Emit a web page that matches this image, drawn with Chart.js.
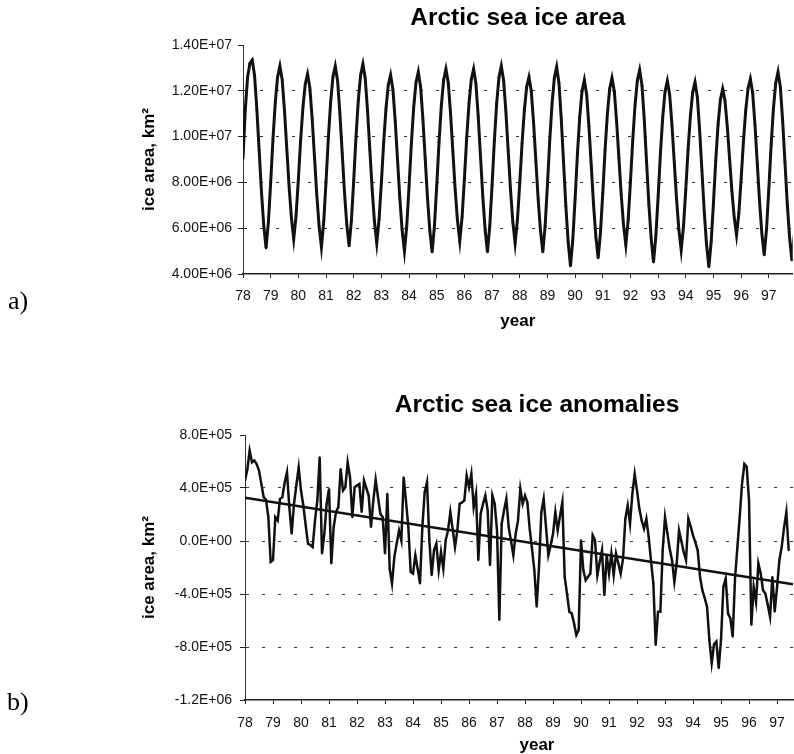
<!DOCTYPE html>
<html>
<head>
<meta charset="utf-8">
<script src="https://cdn.jsdelivr.net/npm/chart.js@4/dist/chart.umd.min.js"></script>
<style>
html,body{margin:0;padding:0;background:#fff;overflow:hidden;width:794px;height:754px;}
#wrap{position:relative;width:794px;height:754px;overflow:hidden;background:#fff;}
canvas{position:absolute;left:0;}
#c1{top:0;}
#c2{top:360px;}
.lab{position:absolute;font-family:'Liberation Serif','Times New Roman',serif;font-size:26px;line-height:26px;color:#000;}
</style>
</head>
<body>
<div id="wrap">
  <canvas id="c1" width="794" height="340"></canvas>
  <canvas id="c2" width="830" height="400"></canvas>
  <div class="lab" style="left:8px;top:288px;">a)</div>
  <div class="lab" style="left:7px;top:689px;">b)</div>
</div>
<script>
// ---------- data ----------
const firstYear = 78;                 // first month of the record (x = 78.0)
const monthsPerYear = 12;
const yearTicks  = [78,79,80,81,82,83,84,85,86,87,88,89,90,91,92,93,94,95,96,97];
const yearLabels = ['78','79','80','81','82','83','84','85','86','87','88','89','90','91','92','93','94','95','96','97'];

const areaTitle = 'Arctic sea ice area';
const anomTitle = 'Arctic sea ice anomalies';
const yTitle = 'ice area, km\u00B2';
const xTitle = 'year';

const areaYTicks  = [4e6, 6e6, 8e6, 1e7, 1.2e7, 1.4e7];
const areaYLabels = ['4.00E+06','6.00E+06','8.00E+06','1.00E+07','1.20E+07','1.40E+07'];
const anomYTicks  = [-1.2e6, -8e5, -4e5, 0, 4e5, 8e5];
const anomYLabels = ['-1.2E+06','-8.0E+05','-4.0E+05','0.0E+00','4.0E+05','8.0E+05'];

// monthly Arctic sea ice area, km^2 (1978 ... 1997)
const iceArea = [
 9.06e6,11.2e6,12.6e6,13.2e6,13.34e6,12.68e6,11.21e6,9.40e6,7.60e6,6.12e6,5.14e6,6.25e6,
 8.00e6,9.90e6,11.49e6,12.60e6,13.08e6,12.48e6,11.12e6,9.46e6,7.80e6,6.44e6,5.53e6,6.54e6,
 8.12e6,9.85e6,11.29e6,12.30e6,12.73e6,12.13e6,10.77e6,9.11e6,7.45e6,6.09e6,5.18e6,6.29e6,
 8.02e6,9.92e6,11.50e6,12.61e6,13.08e6,12.45e6,11.04e6,9.31e6,7.58e6,6.16e6,5.22e6,6.33e6,
 8.08e6,9.99e6,11.58e6,12.69e6,13.17e6,12.54e6,11.14e6,9.42e6,7.70e6,6.29e6,5.35e6,6.38e6,
 7.99e6,9.75e6,11.22e6,12.25e6,12.69e6,12.07e6,10.69e6,9.00e6,7.31e6,5.92e6,5.00e6,6.09e6,
 7.82e6,9.69e6,11.26e6,12.35e6,12.82e6,12.19e6,10.78e6,9.05e6,7.32e6,5.90e6,4.96e6,6.08e6,
 7.84e6,9.75e6,11.35e6,12.47e6,12.95e6,12.35e6,11.00e6,9.35e6,7.69e6,6.34e6,5.44e6,6.49e6,
 8.14e6,9.95e6,11.45e6,12.50e6,12.95e6,12.31e6,10.87e6,9.11e6,7.36e6,5.92e6,4.96e6,6.10e6,
 7.88e6,9.83e6,11.46e6,12.59e6,13.08e6,12.46e6,11.07e6,9.37e6,7.67e6,6.28e6,5.35e6,6.37e6,
 7.96e6,9.70e6,11.15e6,12.17e6,12.60e6,11.99e6,10.61e6,8.93e6,7.25e6,5.88e6,4.96e6,6.09e6,
 7.87e6,9.81e6,11.42e6,12.56e6,13.04e6,12.34e6,10.78e6,8.87e6,6.96e6,5.39e6,4.35e6,5.49e6,
 7.27e6,9.22e6,10.85e6,11.98e6,12.47e6,11.85e6,10.45e6,8.74e6,7.03e6,5.63e6,4.70e6,5.80e6,
 7.53e6,9.42e6,10.99e6,12.09e6,12.56e6,11.98e6,10.66e6,9.06e6,7.46e6,6.14e6,5.27e6,6.34e6,
 8.02e6,9.85e6,11.38e6,12.45e6,12.91e6,12.24e6,10.73e6,8.88e6,7.04e6,5.53e6,4.52e6,5.63e6,
 7.37e6,9.27e6,10.85e6,11.96e6,12.43e6,11.84e6,10.51e6,8.89e6,7.26e6,5.94e6,5.05e6,6.08e6,
 7.69e6,9.45e6,10.91e6,11.94e6,12.38e6,11.73e6,10.28e6,8.51e6,6.73e6,5.28e6,4.31e6,5.40e6,
 7.11e6,8.97e6,10.53e6,11.61e6,12.08e6,11.57e6,10.42e6,9.02e6,7.61e6,6.47e6,5.70e6,6.65e6,
 8.16e6,9.79e6,11.16e6,12.11e6,12.52e6,11.90e6,10.52e6,8.83e6,7.14e6,5.75e6,4.83e6,5.95e6,
 7.71e6,9.62e6,11.22e6,12.34e6,12.82e6,12.16e6,10.69e6,8.88e6,7.07e6,5.60e6,4.61e6,5.70e6
];

// monthly Arctic sea ice area anomalies, km^2
const iceAnomaly = [
 4.56e5,5.4e5,6.82e5,5.94e5,6.07e5,5.8e5,5.31e5,4.31e5,3.31e5,3.11e5,1.80e5,-1.58e5,
 -1.45e5,1.80e5,1.55e5,3.18e5,3.31e5,4.4e5,5.19e5,2.56e5,0.55e5,2.81e5,4.2e5,5.56e5,
 3.81e5,2.68e5,1.2e5,-0.20e5,-0.3e5,-0.45e5,1.55e5,3.06e5,6.32e5,-0.95e5,0.55e5,2.81e5,
 3.93e5,-1.70e5,1.05e5,2.18e5,2.56e5,5.44e5,3.81e5,4.06e5,5.94e5,4.81e5,1.80e5,4.06e5,
 4.19e5,4.31e5,2.18e5,4.56e5,4.0e5,3.43e5,1.05e5,3.06e5,4.61e5,3.3e5,2.06e5,1.80e5,
 -0.95e5,3.56e5,-2.08e5,-3.21e5,-1.20e5,-0.2e5,0.80e5,0.05e5,4.81e5,3.0e5,1.05e5,-2.33e5,
 -2.46e5,-1.08e5,-2.1e5,-3.21e5,1.05e5,3.68e5,4.44e5,0.05e5,-2.58e5,-0.70e5,-0.20e5,-2.21e5,
 -0.83e5,-2.08e5,0.05e5,0.80e5,2.18e5,0.9e5,-0.45e5,0.80e5,2.81e5,2.9e5,3.06e5,4.94e5,
 4.06e5,5.06e5,2.56e5,3.56e5,-1.45e5,2.06e5,2.8e5,3.43e5,2.31e5,-1.83e5,3.43e5,2.81e5,
 0.80e5,-5.96e5,1.30e5,2.3e5,3.18e5,1.05e5,0.0,-1.08e5,0.55e5,1.55e5,3.93e5,2.81e5,
 3.43e5,2.93e5,0.93e5,-0.6e5,-2.21e5,-4.96e5,-1.95e5,2.18e5,3.18e5,1.05e5,-1.08e5,-0.33e5,
 0.55e5,2.18e5,0.80e5,1.9e5,2.93e5,-2.71e5,-4.0e5,-5.34e5,-5.46e5,-6.2e5,-7.09e5,-6.72e5,
 0.05e5,-2.21e5,-2.96e5,-2.7e5,-2.46e5,0.43e5,0.05e5,-2.58e5,-1.6e5,-0.70e5,-4.09e5,-1.08e5,
 -2.46e5,-0.95e5,-2.58e5,-0.95e5,-1.7e5,-2.46e5,-1.33e5,1.68e5,2.68e5,1.30e5,3.56e5,5.06e5,
 3.8e5,2.43e5,1.55e5,0.93e5,1.68e5,0.30e5,-1.5e5,-3.21e5,-7.84e5,-5.34e5,-5.34e5,-0.70e5,
 1.80e5,0.6e5,-0.58e5,-1.45e5,-3.08e5,-1.70e5,0.80e5,0.0,-0.83e5,-1.45e5,1.68e5,1.1e5,
 0.43e5,-0.1e5,-0.70e5,-2.71e5,-3.71e5,-4.3e5,-4.96e5,-7.47e5,-9.22e5,-7.8e5,-7.59e5,-9.60e5,
 -7.47e5,-3.46e5,-2.83e5,-5.46e5,-5.84e5,-7.22e5,-2.83e5,-0.5e5,1.80e5,4.31e5,5.81e5,5.6e5,
 3.06e5,-6.34e5,-3.46e5,-4.59e5,-1.70e5,-2.46e5,-3.71e5,-3.96e5,-4.8e5,-5.71e5,-2.71e5,-5.34e5,
 -3.5e5,-1.45e5,-0.45e5,1.0e5,2.18e5,-0.70e5
];

// linear trend line of the anomalies: end points [year, km^2]
const trendYears  = [78, 97.57];
const trendValues = [3.26e5, -3.26e5];

// ---------- drawing ----------
const FONT = "'Liberation Sans', Arial, Helvetica, sans-serif";
const INK = '#111';

function monthly(values) {
  return values.map((v, i) => ({ x: firstYear + i / monthsPerYear, y: v }));
}

function yGrid(n) {
  return {
    color: (c) => (c.index === 0 || c.index === n - 1) ? 'rgba(0,0,0,0)' : '#333',
    lineWidth: 1,
    drawTicks: true,
    tickLength: 5,
    tickColor: '#222',
    tickWidth: 1
  };
}

function makeChart(id, o) {
  return new Chart(document.getElementById(id), {
    type: 'line',
    data: { datasets: o.datasets },
    options: {
      responsive: false,
      animation: false,
      devicePixelRatio: 1,
      layout: { padding: 0 },
      plugins: {
        legend: { display: false },
        tooltip: { enabled: false },
        title: {
          display: true, text: o.title, fullSize: false, color: '#000',
          font: { family: FONT, size: 24.5, weight: 'bold' },
          padding: o.titlePad
        }
      },
      scales: {
        x: {
          type: 'linear', min: firstYear, max: o.xMax,
          afterBuildTicks: (s) => { s.ticks = yearTicks.map(v => ({ value: v })); },
          ticks: {
            callback: (v, i) => yearLabels[i], autoSkip: false, maxRotation: 0,
            color: INK, font: { family: FONT, size: 14 }, padding: o.xTickPad
          },
          grid: { drawOnChartArea: false, drawTicks: true, tickLength: 4, tickColor: '#222', lineWidth: 1 },
          border: { display: true, color: '#222', width: 1.5 },
          title: {
            display: true, text: xTitle, color: '#000',
            font: { family: FONT, size: 17, weight: 'bold' },
            padding: { top: 0, bottom: o.xTitlePadBottom }
          },
          afterFit: (s) => { s.height = o.xHeight; }
        },
        y: {
          type: 'linear', min: o.yTicks[0], max: o.yTicks[o.yTicks.length - 1],
          afterBuildTicks: (s) => { s.ticks = o.yTicks.map(v => ({ value: v })); },
          ticks: {
            callback: (v, i) => o.yLabels[i], color: INK,
            font: { family: FONT, size: 14 }, padding: o.yTickPad
          },
          grid: yGrid(o.yTicks.length),
          border: { display: true, color: '#333', width: 1, dash: [3, 13] },
          title: {
            display: true, text: yTitle, color: '#000',
            font: { family: FONT, size: 17, weight: 'bold' },
            padding: { top: o.yTitlePadTop, bottom: 0 }
          },
          afterFit: (s) => { s.width = o.yWidth; }
        }
      }
    }
  });
}

makeChart('c1', {
  title: areaTitle,
  titlePad: { top: 4, bottom: 11.6 },
  xMax: 97.863, xTickPad: 9.4, xTitlePadBottom: 8.8, xHeight: 66,
  yTicks: areaYTicks, yLabels: areaYLabels, yTickPad: 6, yTitlePadTop: 139.3, yWidth: 243,
  datasets: [{
    data: monthly(iceArea),
    borderColor: '#111', borderWidth: 3, tension: 0, fill: false,
    pointRadius: 1.3, pointBorderWidth: 0, pointBackgroundColor: '#111', pointHoverRadius: 0
  }]
});

makeChart('c2', {
  title: anomTitle,
  titlePad: { top: 30.3, bottom: 15.3 },
  xMax: 98.856, xTickPad: 10.6, xTitlePadBottom: 4.8, xHeight: 60,
  yTicks: anomYTicks, yLabels: anomYLabels, yTickPad: 8, yTitlePadTop: 138.8, yWidth: 245,
  datasets: [{
    data: monthly(iceAnomaly),
    borderColor: '#111', borderWidth: 2.5, tension: 0, fill: false,
    pointRadius: 1, pointBorderWidth: 0, pointBackgroundColor: '#111', pointHoverRadius: 0
  }, {
    data: trendYears.map((x, i) => ({ x: x, y: trendValues[i] })),
    borderColor: '#111', borderWidth: 2.5, tension: 0, fill: false,
    pointRadius: 0, pointHoverRadius: 0
  }]
});
</script>
</body>
</html>
